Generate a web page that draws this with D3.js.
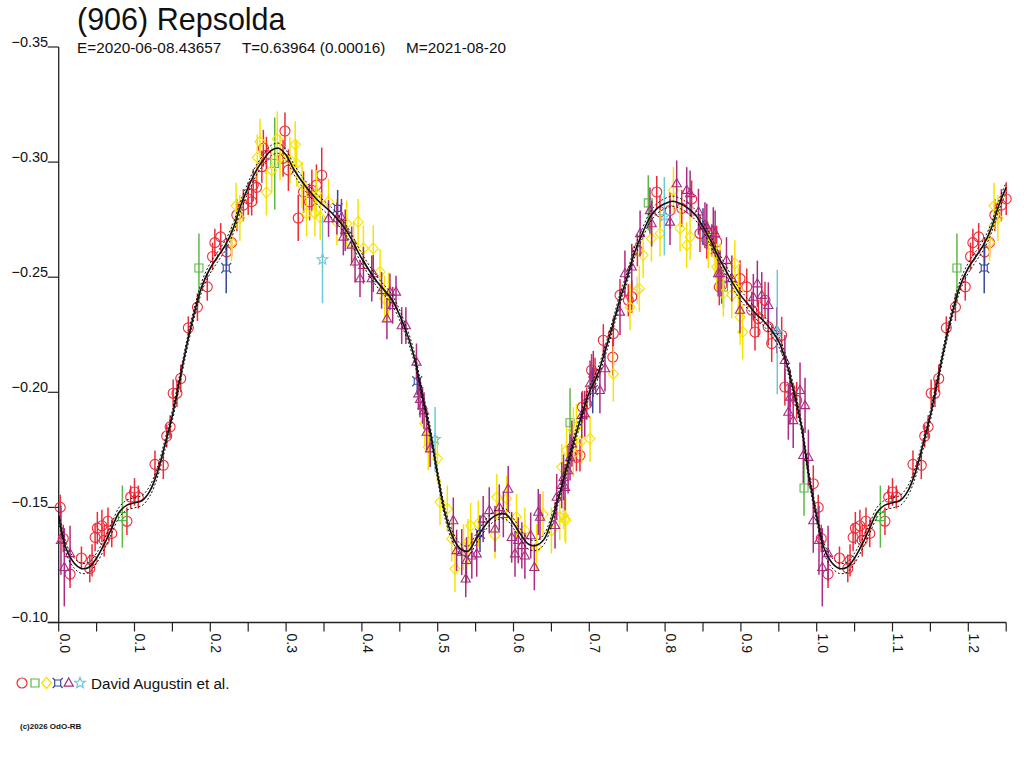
<!DOCTYPE html>
<html><head><meta charset="utf-8">
<script src="https://cdn.jsdelivr.net/npm/d3@7"></script>
<style>
body{margin:0;background:#fff;}
svg{display:block;}
text{font-family:"Liberation Sans",Arial,Helvetica,sans-serif;fill:#111;}
</style>
</head><body>
<svg id="chart" width="1024" height="768"></svg>
<script>
// ---------------- DATA ----------------
const titleText = "(906) Repsolda";
const subtitleParts = ["E=2020-06-08.43657", "T=0.63964 (0.00016)", "M=2021-08-20"];
const legendLabel = "David Augustin et al.";
const footerText = "(c)2026 OdO-RB";

const xTicks = [0.0, 0.1, 0.2, 0.3, 0.4, 0.5, 0.6, 0.7, 0.8, 0.9, 1.0, 1.1, 1.2];
const xMinorTicks = [0.05, 0.15, 0.25, 0.35, 0.45, 0.55, 0.65, 0.75, 0.85, 0.95, 1.05, 1.15, 1.25];
const yTicks = [-0.35, -0.30, -0.25, -0.20, -0.15, -0.10];

// fitted light curve (phase, reduced magnitude)
const curvePhase = [0.000,0.010,0.020,0.030,0.040,0.050,0.060,0.070,0.080,0.090,0.100,0.110,0.120,0.130,0.140,0.150,0.160,0.170,0.180,0.190,0.200,0.210,0.220,0.230,0.240,0.250,0.260,0.270,0.280,0.290,0.300,0.310,0.320,0.340,0.360,0.380,0.400,0.420,0.440,0.460,0.470,0.480,0.490,0.500,0.510,0.520,0.530,0.540,0.550,0.560,0.570,0.580,0.590,0.600,0.610,0.620,0.630,0.640,0.650,0.660,0.670,0.680,0.690,0.700,0.710,0.720,0.730,0.740,0.750,0.760,0.770,0.780,0.790,0.800,0.810,0.820,0.830,0.840,0.850,0.860,0.870,0.880,0.890,0.900,0.910,0.920,0.930,0.940,0.950,0.960,0.970,0.980,0.990,1.000];
const curveMag = [-0.146,-0.132,-0.126,-0.1235,-0.124,-0.128,-0.134,-0.141,-0.148,-0.151,-0.152,-0.153,-0.157,-0.165,-0.177,-0.190,-0.206,-0.222,-0.236,-0.247,-0.254,-0.259,-0.264,-0.271,-0.281,-0.289,-0.296,-0.301,-0.305,-0.306,-0.303,-0.297,-0.292,-0.284,-0.278,-0.270,-0.258,-0.248,-0.240,-0.225,-0.214,-0.198,-0.183,-0.164,-0.147,-0.137,-0.132,-0.131,-0.136,-0.141,-0.145,-0.147,-0.147,-0.143,-0.138,-0.134,-0.1335,-0.136,-0.144,-0.155,-0.167,-0.179,-0.190,-0.200,-0.207,-0.217,-0.228,-0.240,-0.250,-0.261,-0.269,-0.276,-0.280,-0.282,-0.283,-0.282,-0.280,-0.277,-0.272,-0.266,-0.259,-0.253,-0.247,-0.242,-0.238,-0.234,-0.231,-0.227,-0.222,-0.213,-0.200,-0.185,-0.163,-0.146];
const curveBand = 0.0022;

// observations: [phase, magnitude, error]
const obsCircle = [
[0.002,-0.150,0.0055],[0.006,-0.1365,0.006],[0.015,-0.121,0.006],[0.030,-0.128,0.005],[0.041,-0.1235,0.006],
[0.044,-0.127,0.007],[0.048,-0.137,0.006],[0.051,-0.141,0.007],[0.057,-0.142,0.007],[0.060,-0.1357,0.007],
[0.065,-0.144,0.006],[0.070,-0.1387,0.006],[0.090,-0.144,0.006],[0.095,-0.1545,0.005],[0.100,-0.1567,0.006],
[0.105,-0.1545,0.005],[0.127,-0.1687,0.006],[0.138,-0.1683,0.006],[0.1425,-0.181,0.005],[0.147,-0.185,0.005],
[0.151,-0.1996,0.006],[0.156,-0.1996,0.006],[0.161,-0.206,0.006],[0.171,-0.228,0.005],[0.183,-0.237,0.006],
[0.196,-0.2458,0.006],[0.203,-0.259,0.006],[0.206,-0.265,0.006],[0.2137,-0.2675,0.006],[0.2216,-0.261,0.006],
[0.228,-0.265,0.006],[0.235,-0.277,0.007],[0.2436,-0.2813,0.007],[0.250,-0.284,0.007],[0.2546,-0.2828,0.006],
[0.2567,-0.290,0.007],[0.261,-0.289,0.007],[0.268,-0.298,0.007],[0.270,-0.306,0.008],[0.274,-0.303,0.008],
[0.296,-0.3016,0.008],[0.2985,-0.3135,0.008],[0.303,-0.2965,0.009],[0.316,-0.2757,0.010],[0.323,-0.287,0.009],
[0.331,-0.2827,0.008],[0.334,-0.2878,0.009],[0.340,-0.290,0.009],[0.347,-0.2943,0.012],
[0.683,-0.1717,0.006],[0.6877,-0.1726,0.007],[0.691,-0.1936,0.007],[0.6966,-0.195,0.007],[0.703,-0.2096,0.007],
[0.7076,-0.208,0.007],[0.7185,-0.2226,0.007],[0.731,-0.2153,0.008],[0.7317,-0.2255,0.007],[0.7405,-0.2422,0.007],
[0.7515,-0.240,0.007],[0.756,-0.2415,0.007],[0.7634,-0.2617,0.007],[0.789,-0.287,0.007],[0.7933,-0.2784,0.007],
[0.8065,-0.279,0.008],[0.822,-0.2799,0.008],[0.835,-0.284,0.008],[0.846,-0.269,0.008],[0.855,-0.266,0.008],
[0.8615,-0.266,0.007],[0.868,-0.2654,0.007],[0.8715,-0.2458,0.008],[0.8747,-0.2465,0.008],[0.8988,-0.2494,0.008],
[0.9077,-0.2458,0.008],[0.9143,-0.2357,0.008],[0.9186,-0.2262,0.008],[0.923,-0.232,0.008],[0.9318,-0.240,0.008],
[0.936,-0.2284,0.008],[0.9406,-0.2212,0.008],[0.9538,-0.2248,0.008],[0.958,-0.2023,0.008],[0.9648,-0.2016,0.008],
[0.9736,-0.1965,0.008],[0.9955,-0.1603,0.008]
];
const obsSquare = [
[0.084,-0.146,0.0135],[0.185,-0.254,0.015],[0.285,-0.2994,0.020],[0.6746,-0.1868,0.015],
[0.7778,-0.2823,0.012],[0.877,-0.2458,0.009],[0.9833,-0.1584,0.012]
];
const obsDiamond = [
[0.228,-0.265,0.008],[0.234,-0.281,0.010],[0.239,-0.2757,0.010],[0.262,-0.302,0.010],[0.2656,-0.3088,0.010],
[0.274,-0.2868,0.010],[0.281,-0.2965,0.010],[0.2884,-0.310,0.012],[0.292,-0.302,0.010],[0.305,-0.3009,0.010],
[0.312,-0.3077,0.010],[0.314,-0.2994,0.010],[0.321,-0.290,0.010],[0.327,-0.2777,0.010],[0.338,-0.2777,0.010],
[0.340,-0.2865,0.010],[0.345,-0.276,0.010],[0.356,-0.2827,0.010],[0.367,-0.274,0.010],[0.380,-0.2733,0.010],
[0.389,-0.264,0.010],[0.395,-0.274,0.010],[0.402,-0.2625,0.010],[0.415,-0.2625,0.010],[0.424,-0.2523,0.010],
[0.430,-0.2407,0.010],[0.435,-0.242,0.010],[0.483,-0.1865,0.010],[0.4876,-0.1762,0.010],[0.4995,-0.1712,0.010],
[0.503,-0.1523,0.010],[0.5127,-0.1494,0.010],[0.5185,-0.1364,0.010],[0.5228,-0.1233,0.010],[0.534,-0.1327,0.010],
[0.540,-0.135,0.010],[0.5435,-0.142,0.010],[0.5536,-0.143,0.010],[0.5756,-0.1378,0.010],[0.578,-0.1545,0.010],
[0.591,-0.1538,0.010],[0.604,-0.1458,0.010],[0.615,-0.140,0.010],[0.6306,-0.1327,0.010],[0.639,-0.147,0.010],
[0.650,-0.140,0.010],[0.661,-0.1458,0.010],[0.668,-0.1451,0.010],[0.6688,-0.1443,0.010],[0.6636,-0.1675,0.010],
[0.670,-0.1748,0.010],[0.679,-0.1733,0.010],[0.679,-0.1835,0.010],[0.683,-0.1849,0.010],[0.690,-0.179,0.010],
[0.701,-0.1798,0.010],[0.7317,-0.208,0.012],[0.7537,-0.237,0.010],[0.766,-0.245,0.010],[0.771,-0.2596,0.010],
[0.782,-0.2668,0.010],[0.7933,-0.269,0.010],[0.811,-0.2878,0.010],[0.8197,-0.2712,0.010],[0.8285,-0.2639,0.010],
[0.833,-0.2675,0.010],[0.857,-0.2639,0.010],[0.866,-0.2603,0.010],[0.868,-0.2545,0.010],[0.8725,-0.2545,0.010],
[0.8768,-0.2429,0.010],[0.888,-0.2422,0.010],[0.892,-0.256,0.010],[0.8966,-0.2443,0.010],[0.899,-0.2327,0.012],
[0.9024,-0.2262,0.012]
];
const obsCrossSquare = [
[0.221,-0.254,0.011],[0.368,-0.2799,0.008],[0.473,-0.2048,0.006],[0.5558,-0.1386,0.008],
[0.7045,-0.2009,0.010],[0.850,-0.272,0.008]
];
const obsTriangle = [
[0.003,-0.1357,0.015],[0.0074,-0.124,0.017],[0.015,-0.130,0.012],
[0.356,-0.2755,0.008],[0.367,-0.2755,0.007],[0.373,-0.276,0.008],[0.3755,-0.2675,0.008],[0.378,-0.2704,0.009],
[0.3865,-0.264,0.008],[0.391,-0.2567,0.009],[0.3975,-0.2494,0.008],[0.402,-0.2552,0.008],[0.413,-0.2494,0.010],
[0.415,-0.2516,0.008],[0.426,-0.2443,0.008],[0.433,-0.232,0.009],[0.437,-0.2436,0.008],[0.4406,-0.2378,0.008],
[0.445,-0.2436,0.007],[0.4525,-0.229,0.008],[0.458,-0.229,0.008],[0.472,-0.2132,0.008],[0.4745,-0.1994,0.007],
[0.4767,-0.197,0.008],[0.480,-0.1943,0.008],[0.482,-0.192,0.008],[0.4855,-0.1827,0.008],[0.490,-0.1755,0.008],
[0.5206,-0.1443,0.010],[0.525,-0.1313,0.009],[0.5317,-0.1306,0.010],[0.537,-0.119,0.008],[0.538,-0.127,0.010],
[0.545,-0.129,0.010],[0.5515,-0.1299,0.010],[0.560,-0.145,0.010],[0.568,-0.1487,0.010],[0.5756,-0.1407,0.010],
[0.5813,-0.150,0.010],[0.5866,-0.147,0.010],[0.593,-0.158,0.010],[0.5976,-0.137,0.011],[0.602,-0.1299,0.010],
[0.6063,-0.1357,0.010],[0.611,-0.1335,0.010],[0.615,-0.129,0.010],[0.6227,-0.1378,0.010],[0.6275,-0.124,0.010],
[0.6327,-0.148,0.010],[0.635,-0.1458,0.010],[0.6548,-0.1422,0.010],[0.657,-0.1545,0.010],[0.6636,-0.1596,0.010],
[0.666,-0.163,0.010],[0.668,-0.1588,0.010],[0.672,-0.166,0.010],[0.6746,-0.1717,0.010],[0.677,-0.1777,0.010],
[0.690,-0.190,0.010],[0.694,-0.1907,0.010],[0.701,-0.2038,0.010],[0.7053,-0.208,0.010],[0.714,-0.2009,0.010],
[0.7207,-0.2103,0.010],[0.7405,-0.2349,0.010],[0.747,-0.2516,0.010],[0.756,-0.2545,0.010],[0.767,-0.269,0.010],
[0.780,-0.279,0.010],[0.7823,-0.2733,0.010],[0.8065,-0.274,0.010],[0.8153,-0.2907,0.010],[0.8285,-0.2878,0.010],
[0.833,-0.2864,0.010],[0.844,-0.2784,0.010],[0.8526,-0.2726,0.010],[0.855,-0.2719,0.010],[0.8636,-0.2704,0.010],
[0.866,-0.269,0.010],[0.870,-0.2516,0.010],[0.8725,-0.2516,0.010],[0.881,-0.2574,0.010],[0.888,-0.2494,0.010],
[0.8988,-0.2357,0.010],[0.9164,-0.2414,0.010],[0.9217,-0.2472,0.010],[0.9275,-0.2422,0.010],[0.9362,-0.2378,0.010],
[0.9473,-0.227,0.010],[0.958,-0.2139,0.011],[0.9626,-0.1914,0.012],[0.9648,-0.198,0.012],[0.969,-0.1878,0.012],
[0.978,-0.2009,0.012],[0.9823,-0.1726,0.012],[0.9846,-0.1943,0.012],[0.989,-0.1718,0.012],[0.9955,-0.1443,0.014]
];
const obsStar = [
[0.348,-0.2577,0.019],[0.4965,-0.1796,0.014],[0.799,-0.2765,0.017],[0.948,-0.2262,0.027]
];
const obsExcluded = [
[0.666,-0.1465,0.006],[0.763,-0.2443,0.006]
];

// ---------------- STYLE ----------------
const seriesDefs = [
  {data: obsCircle,      shape: "circle",   color: "#ee2a36"},
  {data: obsSquare,      shape: "square",   color: "#5cb746"},
  {data: obsDiamond,     shape: "diamond",  color: "#f7e300"},
  {data: obsCrossSquare, shape: "xsquare",  color: "#33479c"},
  {data: obsTriangle,    shape: "triangle", color: "#ac2a80"},
  {data: obsStar,        shape: "star",     color: "#6cc8da"}
];

function starPath(R, r) {
  const pts = [];
  for (let i = 0; i < 10; i++) {
    const a = -Math.PI / 2 + i * Math.PI / 5;
    const rad = i % 2 === 0 ? R : r;
    pts.push([rad * Math.cos(a), rad * Math.sin(a)]);
  }
  return "M" + pts.map(p => p[0].toFixed(2) + "," + p[1].toFixed(2)).join("L") + "Z";
}
const shapePaths = {
  circle: "M5,0A5,5 0 1,1 -5,0A5,5 0 1,1 5,0Z",
  square: "M-4,-4H4V4H-4Z",
  diamond: "M0,-5.5L5,0L0,5.5L-5,0Z",
  xsquare: "M-3,-3H3V3H-3Z M-3,-3L-5,-5 M3,-3L5,-5 M3,3L5,5 M-3,3L-5,5",
  triangle: "M0,-5L4.6,3.2L-4.6,3.2Z",
  star: starPath(5.6, 2.4)
};

// ---------------- CHART ----------------
const svg = d3.select("#chart");
const x = d3.scaleLinear().domain([0, 1.25]).range([58.7, 1006.2]);
const y = d3.scaleLinear().domain([-0.10, -0.35]).range([622.5, 47]);
const xMax = 1.25;

function wrapPhase(arr) {
  return arr.concat(arr.filter(d => d[0] + 1 <= xMax).map(d => [d[0] + 1, d[1], d[2]]));
}

// axes
const axisColor = "#222";
svg.append("line").attr("x1", x(0)).attr("x2", x(0)).attr("y1", y(-0.35)).attr("y2", y(-0.10))
  .attr("stroke", axisColor).attr("stroke-width", 1.3);
svg.append("line").attr("x1", x(0) - 11).attr("x2", x(xMax)).attr("y1", y(-0.10)).attr("y2", y(-0.10))
  .attr("stroke", axisColor).attr("stroke-width", 1.3);

const allXTicks = xTicks.concat(xMinorTicks);
svg.append("g").selectAll("line").data(allXTicks).join("line")
  .attr("x1", d => x(d)).attr("x2", d => x(d))
  .attr("y1", y(-0.10)).attr("y2", y(-0.10) + 9)
  .attr("stroke", axisColor).attr("stroke-width", 1.2);

const fx = d3.format(".1f");
svg.append("g").selectAll("text").data(xTicks).join("text")
  .attr("transform", d => `translate(${x(d) + 0.8},${y(-0.10) + 11}) rotate(90)`)
  .attr("font-size", 14)
  .text(d => fx(d));

const fy = d3.format(".2f");
svg.append("g").selectAll("line").data(yTicks).join("line")
  .attr("x1", x(0) - 11).attr("x2", x(0))
  .attr("y1", d => y(d)).attr("y2", d => y(d))
  .attr("stroke", axisColor).attr("stroke-width", 1.2);
svg.append("g").selectAll("text").data(yTicks).join("text")
  .attr("x", x(0) - 10.5).attr("y", d => y(d) - 0.5)
  .attr("text-anchor", "end").attr("font-size", 14.5)
  .text(d => fy(d));

// observations
const obsLayer = svg.append("g");
function drawSeries(def) {
  const pts = wrapPhase(def.data);
  const g = obsLayer.append("g");
  g.selectAll("line").data(pts).join("line")
    .attr("x1", d => x(d[0])).attr("x2", d => x(d[0]))
    .attr("y1", d => y(d[1] - d[2])).attr("y2", d => y(d[1] + d[2]))
    .attr("stroke", def.color).attr("stroke-width", 1.5);
  g.selectAll("path").data(pts).join("path")
    .attr("d", shapePaths[def.shape])
    .attr("transform", d => `translate(${x(d[0])},${y(d[1])})`)
    .attr("fill", "none").attr("stroke", def.color).attr("stroke-width", 1.1);
}
drawSeries({data: obsExcluded, shape: "diamond", color: "#d6d2dc"});
seriesDefs.forEach(d => drawSeries(d));

// fitted curve (solid) with uncertainty band (dashed)
let curvePts = curvePhase.map((p, i) => [p, curveMag[i]]);
curvePts = curvePts.concat(curvePts.filter(d => d[0] > 0 && d[0] + 1 <= xMax).map(d => [d[0] + 1, d[1]]));
const line = d3.line().x(d => x(d[0])).y(d => y(d[1])).curve(d3.curveCatmullRom.alpha(0.5));
[-curveBand, curveBand].forEach(off => {
  svg.append("path").datum(curvePts.map(d => [d[0], d[1] + off]))
    .attr("d", line).attr("fill", "none").attr("stroke", "#111")
    .attr("stroke-width", 1).attr("stroke-dasharray", "2,2");
});
svg.append("path").datum(curvePts).attr("d", line)
  .attr("fill", "none").attr("stroke", "#111").attr("stroke-width", 1.6);

// titles
svg.append("text").attr("x", 77).attr("y", 30).attr("font-size", 30.5).text(titleText);
const subX = [77, 242, 406];
svg.append("g").selectAll("text").data(subtitleParts).join("text")
  .attr("x", (d, i) => subX[i]).attr("y", 53).attr("font-size", 15.3).text(d => d);

// legend
const legendShapes = seriesDefs.map((d, i) => ({shape: d.shape, color: d.color, cx: [22, 35, 46.5, 57.7, 68.7, 80][i]}));
svg.append("g").selectAll("path").data(legendShapes).join("path")
  .attr("d", d => shapePaths[d.shape])
  .attr("transform", d => `translate(${d.cx},683)`)
  .attr("fill", "none").attr("stroke", d => d.color).attr("stroke-width", 1.2);
svg.append("text").attr("x", 91).attr("y", 688.5).attr("font-size", 15.2).text(legendLabel);

// footer
svg.append("text").attr("x", 20).attr("y", 728.5).attr("font-size", 8).attr("font-weight", "bold").text(footerText);
</script>
</body></html>
